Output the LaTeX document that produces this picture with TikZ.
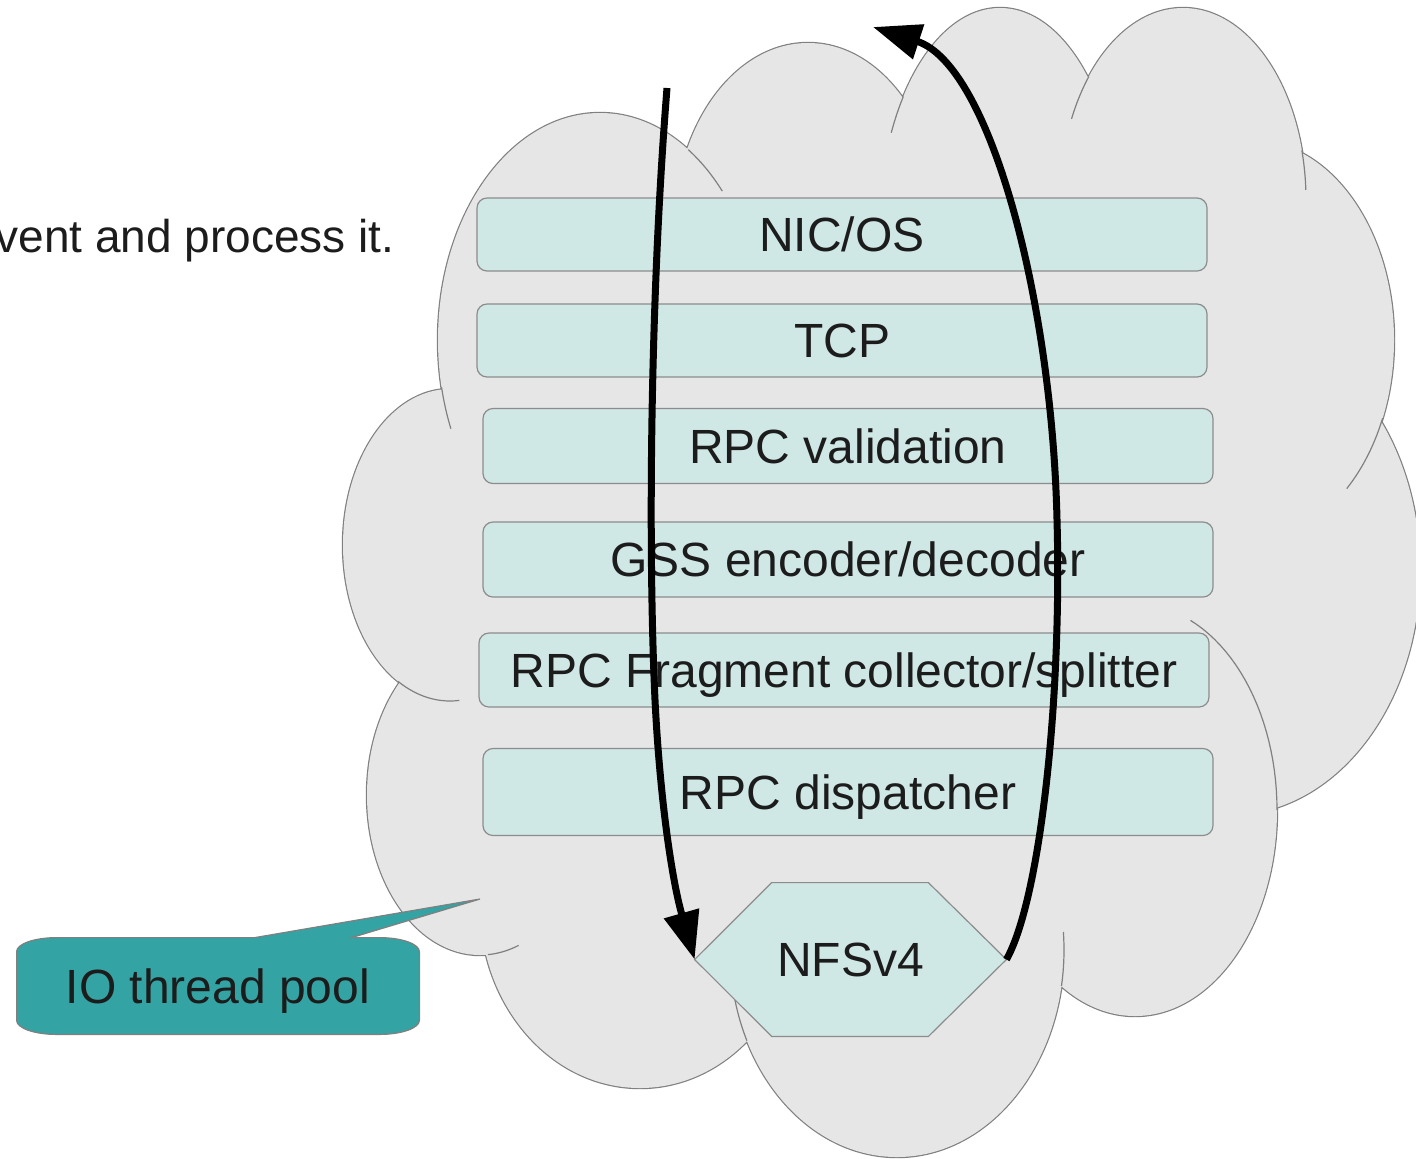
\documentclass[tikz,border=0pt]{standalone}
\usepackage{fontspec}
\setmainfont{Liberation Sans}
\usetikzlibrary{arrows.meta,calc}
\pgfdeclarelayer{cloudlayer}
\pgfdeclarelayer{shapelayer}
\pgfsetlayers{cloudlayer,shapelayer,main}
\definecolor{cloudfill}{RGB}{230,230,230}
\definecolor{cloudline}{RGB}{128,128,128}
\definecolor{layerfill}{RGB}{207,231,229}
\definecolor{layerline}{RGB}{140,140,140}
\definecolor{calloutfill}{RGB}{51,163,163}
\definecolor{labeltext}{RGB}{28,28,28}
\def\cloudlobes{(600,340) ellipse [x radius=162, y radius=227]
 (808,230) ellipse [x radius=134, y radius=187]
 (1000,230) ellipse [x radius=121, y radius=222]
 (1183,200) ellipse [x radius=123, y radius=192]
 (1251,340) ellipse [x radius=143, y radius=200]
 (1230,570) ellipse [x radius=190, y radius=245]
 (1135,810) ellipse [x radius=142, y radius=206]
 (897,950) ellipse [x radius=167, y radius=207]
 (640,905) ellipse [x radius=160, y radius=183]
 (480,795) ellipse [x radius=113, y radius=160]
 (450,545) ellipse [x radius=107, y radius=156]}
\begin{document}
\begin{tikzpicture}[x=0.5pt,y=-0.5pt,
  layerbox/.style={draw=layerline, fill=layerfill, rounded corners=5pt, line width=0.6pt,
    minimum width=365pt, inner sep=0pt, text=labeltext, font=\fontsize{24}{29}\selectfont,
    text height=17.2pt, text depth=0pt},
  bigtext/.style={inner sep=0pt, text=labeltext, font=\fontsize{24}{29}\selectfont,
    text height=17.2pt, text depth=0pt},
  flow/.style={line width=3.5pt, black, -{Triangle[length=24pt,width=17.5pt]}},
  cloudtail/.style={draw=cloudline, line width=0.6pt},
]
\useasboundingbox (0,0) rectangle (1416,1158);

% ---------- cloud ----------
\begin{pgfonlayer}{cloudlayer}
\path[draw=cloudline, line width=1.2pt, fill=cloudfill] \cloudlobes;
\fill[cloudfill] \cloudlobes;
\fill[cloudfill] (448,395) -- (690,158) -- (903,108) -- (1085,90) -- (1297,153) -- (1375,420)
  -- (1275,807) -- (1056,985) -- (752,1035) -- (488,950) -- (405,682) -- cycle;
\draw[cloudtail] plot[domain=157:168, samples=15] ({600+162*cos(\x)},{340+227*sin(\x)});
\draw[cloudtail] plot[domain=-57:-41, samples=15] ({600+162*cos(\x)},{340+227*sin(\x)});
\draw[cloudtail] plot[domain=-154:-143, samples=15] ({1000+121*cos(\x)},{230+222*sin(\x)});
\draw[cloudtail] plot[domain=-155:-140, samples=15] ({1183+123*cos(\x)},{200+192*sin(\x)});
\draw[cloudtail] plot[domain=-15:-3, samples=15] ({1183+123*cos(\x)},{200+192*sin(\x)});
\draw[cloudtail] plot[domain=23:48, samples=15] ({1251+143*cos(\x)},{340+200*sin(\x)});
\draw[cloudtail] plot[domain=-67:0, samples=25] ({1135+142*cos(\x)},{810+206*sin(\x)});
\draw[cloudtail] plot[domain=-5:10, samples=15] ({897+167*cos(\x)},{950+207*sin(\x)});
\draw[cloudtail] plot[domain=154:166, samples=15] ({897+167*cos(\x)},{950+207*sin(\x)});
\draw[cloudtail] plot[domain=70:86, samples=15] ({480+113*cos(\x)},{795+160*sin(\x)});
\draw[cloudtail] plot[domain=85:119, samples=15] ({450+107*cos(\x)},{545+156*sin(\x)});
\end{pgfonlayer}

% ---------- caption text ----------
\node[anchor=base east, inner sep=0pt, text=labeltext, font=\fontsize{23}{27}\selectfont]
  (caption) at (395,252) {vent and process it.};

% ---------- protocol layers ----------
\node[layerbox, minimum height=36.5pt] (nic)  at (842,234.5) {NIC/OS};
\node[layerbox, minimum height=36.5pt] (tcp)  at (842,340.5) {TCP};
\node[layerbox, minimum height=37.5pt] (rpcv) at (848,446)   {RPC validation};
\node[layerbox, minimum height=37.5pt] (gss)  at (848,559.5) {GSS encoder/decoder};
\node[layerbox, minimum height=37pt]   (frag) at (844,670)   {RPC Fragment collector/splitter};
\node[layerbox, minimum height=43.5pt] (disp) at (848,792)   {RPC dispatcher};

% ---------- NFSv4 hexagon ----------
\node[bigtext, minimum width=155.5pt, minimum height=76.5pt] (nfs) at (850.5,959.5) {NFSv4};
\begin{pgfonlayer}{shapelayer}
\draw[draw=layerline, fill=layerfill, line width=0.6pt]
  (nfs.west) -- ($(nfs.north west)+(77,0)$) -- ($(nfs.north east)+(-78,0)$) -- (nfs.east)
  -- ($(nfs.south east)+(-78,0)$) -- ($(nfs.south west)+(77,0)$) -- cycle;
\end{pgfonlayer}

% ---------- IO thread pool callout ----------
\node[bigtext, minimum width=201pt, minimum height=48pt] (io) at (218,986) {IO thread pool};
\coordinate (iotip) at (480,899);
\begin{pgfonlayer}{shapelayer}
\draw[draw=cloudline, fill=calloutfill, line width=0.6pt]
  ($(io.north west)+(0,14)$) arc[start angle=180, end angle=270, x radius=40, y radius=14]
  -- ($(io.north west)+(238,0)$) -- (iotip) -- ($(io.north west)+(335,0)$)
  -- ($(io.north east)+(-40,0)$) arc[start angle=270, end angle=360, x radius=40, y radius=14]
  -- ($(io.south east)+(0,-14)$) arc[start angle=0, end angle=90, x radius=40, y radius=14]
  -- ($(io.south west)+(40,0)$) arc[start angle=90, end angle=180, x radius=40, y radius=14]
  -- cycle;
\end{pgfonlayer}

% ---------- flow arrows ----------
\coordinate (downstart) at (667,88);
\coordinate (upend) at (873,27);
\draw[flow] (downstart) .. controls (650,300) and (648,550) .. (655,700)
  .. controls (660,800) and (672,880) .. (nfs.west);
\draw[flow] (nfs.east) .. controls (1040,900) and (1062,700) .. (1057,520)
  .. controls (1052,300) and (990,65) .. (upend);
\end{tikzpicture}
\end{document}
